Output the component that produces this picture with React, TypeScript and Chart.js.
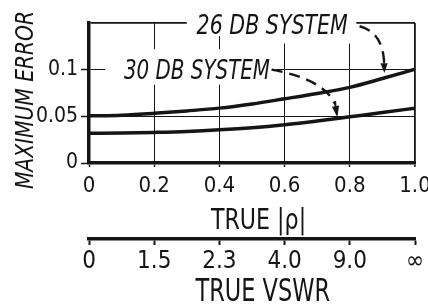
import React, { useEffect, useRef } from 'react';
import { Chart, registerables } from 'chart.js';

Chart.register(...registerables);

// ---- data ----
const rhoValues = [0, 0.1, 0.2, 0.3, 0.4, 0.5, 0.6, 0.7, 0.8, 0.9, 1.0];
const err26 = [0.0505, 0.0512, 0.0532, 0.0558, 0.0588, 0.0633, 0.0688, 0.0745, 0.081, 0.0905, 0.1005];
const err30 = [0.0318, 0.0321, 0.0328, 0.0338, 0.0355, 0.0378, 0.041, 0.045, 0.0495, 0.054, 0.0588];
const seriesNames = ['26 DB SYSTEM', '30 DB SYSTEM'];

const xTickValues = [0, 0.2, 0.4, 0.6, 0.8, 1.0];
const xTickLabels = ['0', '0.2', '0.4', '0.6', '0.8', '1.0'];
const vswrTickLabels = ['0', '1.5', '2.3', '4.0', '9.0', '∞'];
const yTickValues = [0, 0.05, 0.1, 0.15];
const yTickLabels = ['0', '0.05', '0.1', ''];

const yTitle = 'MAXIMUM ERROR';
const xTitle = 'TRUE |ρ|';
const x2Title = 'TRUE VSWR';

const FAMILY = "'DejaVu Sans Condensed', 'DejaVu Sans', sans-serif";
const INK = '#151515';

function drawText(
  ctx: CanvasRenderingContext2D,
  text: string,
  x: number,
  capCenterY: number,
  size: number,
  opts: { italic?: boolean; sx?: number; align?: CanvasTextAlign; rot?: number } = {}
) {
  ctx.save();
  ctx.translate(x, capCenterY);
  if (opts.rot) ctx.rotate(opts.rot);
  ctx.scale(opts.sx ?? 1, 1);
  ctx.font = `${opts.italic ? 'italic ' : ''}${size}px ${FAMILY}`;
  ctx.textAlign = opts.align ?? 'left';
  ctx.textBaseline = 'alphabetic';
  ctx.fillStyle = INK;
  ctx.fillText(text, 0, 0.3645 * size);
  ctx.restore();
}

function dashedArrow(
  ctx: CanvasRenderingContext2D,
  s: [number, number],
  c: [number, number],
  e: [number, number],
  t: [number, number]
) {
  ctx.save();
  ctx.strokeStyle = INK;
  ctx.fillStyle = INK;
  ctx.lineWidth = 2.4;
  ctx.setLineDash([11, 7]);
  ctx.beginPath();
  ctx.moveTo(s[0], s[1]);
  ctx.quadraticCurveTo(c[0], c[1], e[0], e[1]);
  ctx.stroke();
  ctx.setLineDash([]);
  const ang = Math.atan2(t[1] - e[1], t[0] - e[0]);
  const w = 3.6;
  const bx = e[0] + Math.cos(ang) * 2;
  const by = e[1] + Math.sin(ang) * 2;
  ctx.beginPath();
  ctx.moveTo(t[0], t[1]);
  ctx.lineTo(bx + Math.cos(ang + Math.PI / 2) * w, by + Math.sin(ang + Math.PI / 2) * w);
  ctx.lineTo(bx - Math.cos(ang + Math.PI / 2) * w, by - Math.sin(ang + Math.PI / 2) * w);
  ctx.closePath();
  ctx.fill();
  ctx.lineWidth = 2;
  ctx.beginPath();
  ctx.moveTo(e[0], e[1] - 3);
  ctx.lineTo(bx, by);
  ctx.stroke();
  ctx.restore();
}

const annotationPlugin = {
  id: 'annotations',
  beforeDatasetsDraw(chart: any) {
    const { ctx, scales } = chart;
    const X = (v: number) => scales.x.getPixelForValue(v);
    const Y = (v: number) => scales.y.getPixelForValue(v);
    ctx.save();
    ctx.fillStyle = '#ffffff';
    // box behind the 26 DB label
    ctx.fillRect(X(0.3), 0, X(0.52) - X(0.3), Y(0.136));
    ctx.fillRect(X(0.52), 0, X(0.82) - X(0.52), Y(0.128));
    // box behind the 30 DB label
    ctx.fillRect(X(0.05), Y(0.122), X(0.574) - X(0.05), Y(0.084) - Y(0.122));
    ctx.restore();
  },
  afterDatasetsDraw(chart: any) {
    const { ctx, scales } = chart;
    const X = (v: number) => scales.x.getPixelForValue(v);
    const Y = (v: number) => scales.y.getPixelForValue(v);

    drawText(ctx, seriesNames[0], X(0.33), Y(0.1483), 26, { italic: true, sx: 0.88 });
    drawText(ctx, seriesNames[1], X(0.107), Y(0.1), 26, { italic: true, sx: 0.85 });

    dashedArrow(ctx, [X(0.83), Y(0.1465)], [X(0.9), Y(0.14)], [X(0.905), Y(0.109)], [X(0.906), Y(0.0965)]);
    dashedArrow(ctx, [X(0.56), Y(0.1)], [X(0.72), Y(0.09)], [X(0.755), Y(0.063)], [X(0.762), Y(0.049)]);
  },
  afterDraw(chart: any) {
    const { ctx, scales } = chart;
    const X = (v: number) => scales.x.getPixelForValue(v);
    const Y = (v: number) => scales.y.getPixelForValue(v);
    // y axis title
    drawText(ctx, yTitle, scales.y.left + 24, Y(0.0675), 25, {
      italic: true,
      sx: 0.9,
      align: 'center',
      rot: -Math.PI / 2,
    });
    // x axis titles
    drawText(ctx, xTitle, X(0.52), scales.x.top + 55, 29, { sx: 0.85, align: 'center' });
    drawText(ctx, x2Title, X(0.533), scales.x2.top + 50, 32, { sx: 0.78, align: 'center' });
  },
};

export default function App() {
  const ref = useRef<HTMLCanvasElement>(null);

  useEffect(() => {
    const canvas = ref.current;
    if (!canvas) return;
    const chart = new Chart(canvas, {
      type: 'line',
      data: {
        datasets: [
          {
            label: seriesNames[0],
            data: rhoValues.map((r, i) => ({ x: r, y: err26[i] })),
            borderColor: INK,
            borderWidth: 3.5,
            pointRadius: 0,
            cubicInterpolationMode: 'monotone',
            fill: false,
          },
          {
            label: seriesNames[1],
            data: rhoValues.map((r, i) => ({ x: r, y: err30[i] })),
            borderColor: INK,
            borderWidth: 3.5,
            pointRadius: 0,
            cubicInterpolationMode: 'monotone',
            fill: false,
          },
        ],
      },
      options: {
        animation: false,
        responsive: false,
        layout: { padding: { top: 23, right: 13, left: 0, bottom: 0 } },
        plugins: { legend: { display: false }, tooltip: { enabled: false } },
        scales: {
          x: {
            type: 'linear',
            position: 'bottom',
            weight: 0,
            min: 0,
            max: 1,
            afterBuildTicks: (s: any) => {
              s.ticks = xTickValues.map((v) => ({ value: v }));
            },
            afterFit: (s: any) => {
              s.height = 76;
              s.paddingLeft = 0;
              s.paddingRight = 0;
            },
            ticks: {
              callback: (_v: any, i: number) => xTickLabels[i],
              font: { family: FAMILY, size: 22 },
              color: INK,
              padding: 6,
              maxRotation: 0,
              autoSkip: false,
            },
            grid: {
              color: INK,
              lineWidth: (c: any) => (c.tick && c.tick.value === 1 ? 1.8 : 1),
              tickLength: 4,
              tickColor: INK,
              tickWidth: 1.5,
            },
            border: { display: true, color: INK, width: 3.5 },
          },
          x2: {
            type: 'linear',
            position: 'bottom',
            weight: 1,
            min: 0,
            max: 1,
            afterBuildTicks: (s: any) => {
              s.ticks = xTickValues.map((v) => ({ value: v }));
            },
            afterFit: (s: any) => {
              s.height = 65;
              s.paddingLeft = 0;
              s.paddingRight = 0;
            },
            ticks: {
              callback: (_v: any, i: number) => vswrTickLabels[i],
              font: { family: FAMILY, size: 24 },
              color: INK,
              padding: 2,
              maxRotation: 0,
              autoSkip: false,
            },
            grid: {
              drawOnChartArea: false,
              tickLength: 6,
              tickColor: INK,
              tickWidth: 2,
            },
            border: { display: true, color: INK, width: 3.5 },
          },
          y: {
            type: 'linear',
            min: 0,
            max: 0.15,
            afterBuildTicks: (s: any) => {
              s.ticks = yTickValues.map((v) => ({ value: v }));
            },
            afterFit: (s: any) => {
              s.width = 89;
              s.paddingTop = 0;
              s.paddingBottom = 0;
            },
            ticks: {
              callback: (_v: any, i: number) => yTickLabels[i],
              font: { family: FAMILY, size: 21 },
              color: INK,
              padding: 3,
              autoSkip: false,
            },
            grid: {
              color: INK,
              lineWidth: (c: any) => (c.tick && c.tick.value > 0.149 ? 1.8 : 1),
              tickLength: 8,
              tickColor: (c: any) => (c.tick && c.tick.value > 0.149 ? 'rgba(0,0,0,0)' : INK),
              tickWidth: 1.5,
            },
            border: { display: true, color: INK, width: 3.5 },
          },
        },
      },
      plugins: [annotationPlugin],
    } as any);
    return () => chart.destroy();
  }, []);

  return (
    <div style={{ position: 'absolute', left: 0, top: 0, width: 428, height: 304, background: '#fff' }}>
      <canvas ref={ref} width={428} height={304} />
    </div>
  );
}
